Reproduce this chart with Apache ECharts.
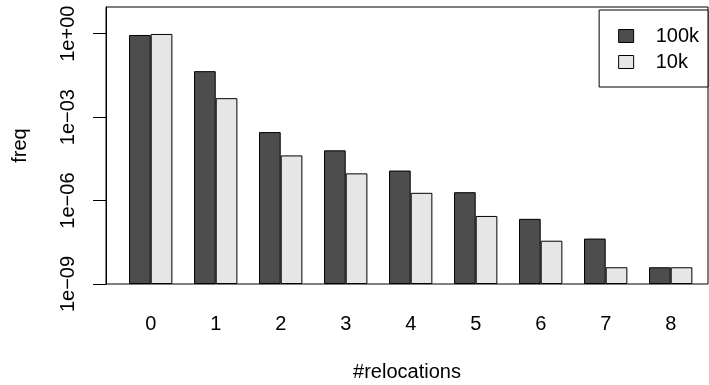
<!DOCTYPE html>
<html>
<head>
<meta charset="utf-8">
<script src="https://cdn.jsdelivr.net/npm/echarts@6/dist/echarts.min.js"></script>
<style>
html,body{margin:0;padding:0;background:#fff;}
#chart{width:709px;height:385px;}
</style>
</head>
<body>
<div id="chart"></div>
<script>
var categories = [0, 1, 2, 3, 4, 5, 6, 7, 8];
var seriesNames = ['100k', '10k'];
var values100k = [0.9, 0.045, 2.9e-4, 6.4e-5, 1.2e-5, 2.0e-6, 2.2e-7, 4.3e-8, 4.0e-9];
var values10k  = [0.98, 0.0048, 4.2e-5, 9.5e-6, 1.9e-6, 2.8e-7, 3.6e-8, 4.0e-9, 4.0e-9];
var yTicks = [1e-9, 1e-6, 1e-3, 1];

var FONT = 'Liberation Sans, Arial, Helvetica, sans-serif';
var FS = 20;

function fmtExp(v) {
  var e = Math.round(Math.log10(v));
  var s = e < 0 ? '\u2212' : '+';
  var a = Math.abs(e);
  return '1e' + s + (a < 10 ? '0' + a : '' + a);
}

function pairs(vals) {
  return categories.map(function (c, i) { return [c, vals[i]]; });
}

var chart = echarts.init(document.getElementById('chart'), null, {renderer: 'canvas'});
chart.setOption({
  animation: false,
  backgroundColor: '#fff',
  textStyle: {fontFamily: FONT},
  grid: {
    left: 106, right: 1, top: 7, bottom: 101,
    containLabel: false,
    outerBoundsMode: 'none',
    show: true, borderColor: '#000', borderWidth: 1, backgroundColor: 'transparent'
  },
  legend: {
    data: seriesNames,
    orient: 'vertical',
    right: 1, top: 10,
    icon: 'rect',
    itemWidth: 15, itemHeight: 13, itemGap: 6,
    padding: [16, 9, 15, 19],
    borderColor: '#000', borderWidth: 1,
    backgroundColor: '#fff',
    itemStyle: {borderColor: '#000', borderWidth: 1},
    textStyle: {fontFamily: FONT, fontSize: FS, color: '#000', padding: [0, 0, 0, 17]}
  },
  xAxis: {
    type: 'value',
    min: -0.688, max: 8.574,
    name: '#relocations',
    nameLocation: 'middle',
    nameGap: 78,
    nameTextStyle: {fontFamily: FONT, fontSize: FS, color: '#000'},
    axisLine: {show: false},
    axisTick: {show: false},
    splitLine: {show: false},
    axisLabel: {
      customValues: categories,
      formatter: function (v) { return String(v); },
      fontFamily: FONT, fontSize: FS, color: '#000', margin: 30
    }
  },
  yAxis: {
    type: 'log',
    logBase: 10,
    min: 1e-9,
    max: Math.pow(10, 0.96),
    startValue: 1e-9,
    name: 'freq',
    nameLocation: 'middle',
    nameRotate: 90,
    nameGap: 76,
    nameTextStyle: {fontFamily: FONT, fontSize: FS, color: '#000'},
    axisLine: {show: true, onZero: false, lineStyle: {color: '#000', width: 1}},
    axisTick: {show: true, length: 13, customValues: yTicks, lineStyle: {color: '#000', width: 1}},
    splitLine: {show: false},
    axisLabel: {
      customValues: yTicks,
      rotate: 90,
      formatter: function (v) { return fmtExp(v); },
      fontFamily: FONT, fontSize: FS, color: '#000', margin: 28
    }
  },
  series: [
    {
      name: seriesNames[0], type: 'bar',
      data: pairs(values100k),
      barWidth: 21.67, barGap: '0%',
      itemStyle: {color: '#4d4d4d', borderColor: '#000', borderWidth: 1}
    },
    {
      name: seriesNames[1], type: 'bar',
      data: pairs(values10k),
      barWidth: 21.67, barGap: '0%',
      itemStyle: {color: '#e6e6e6', borderColor: '#000', borderWidth: 1}
    }
  ]
});
</script>
</body>
</html>
